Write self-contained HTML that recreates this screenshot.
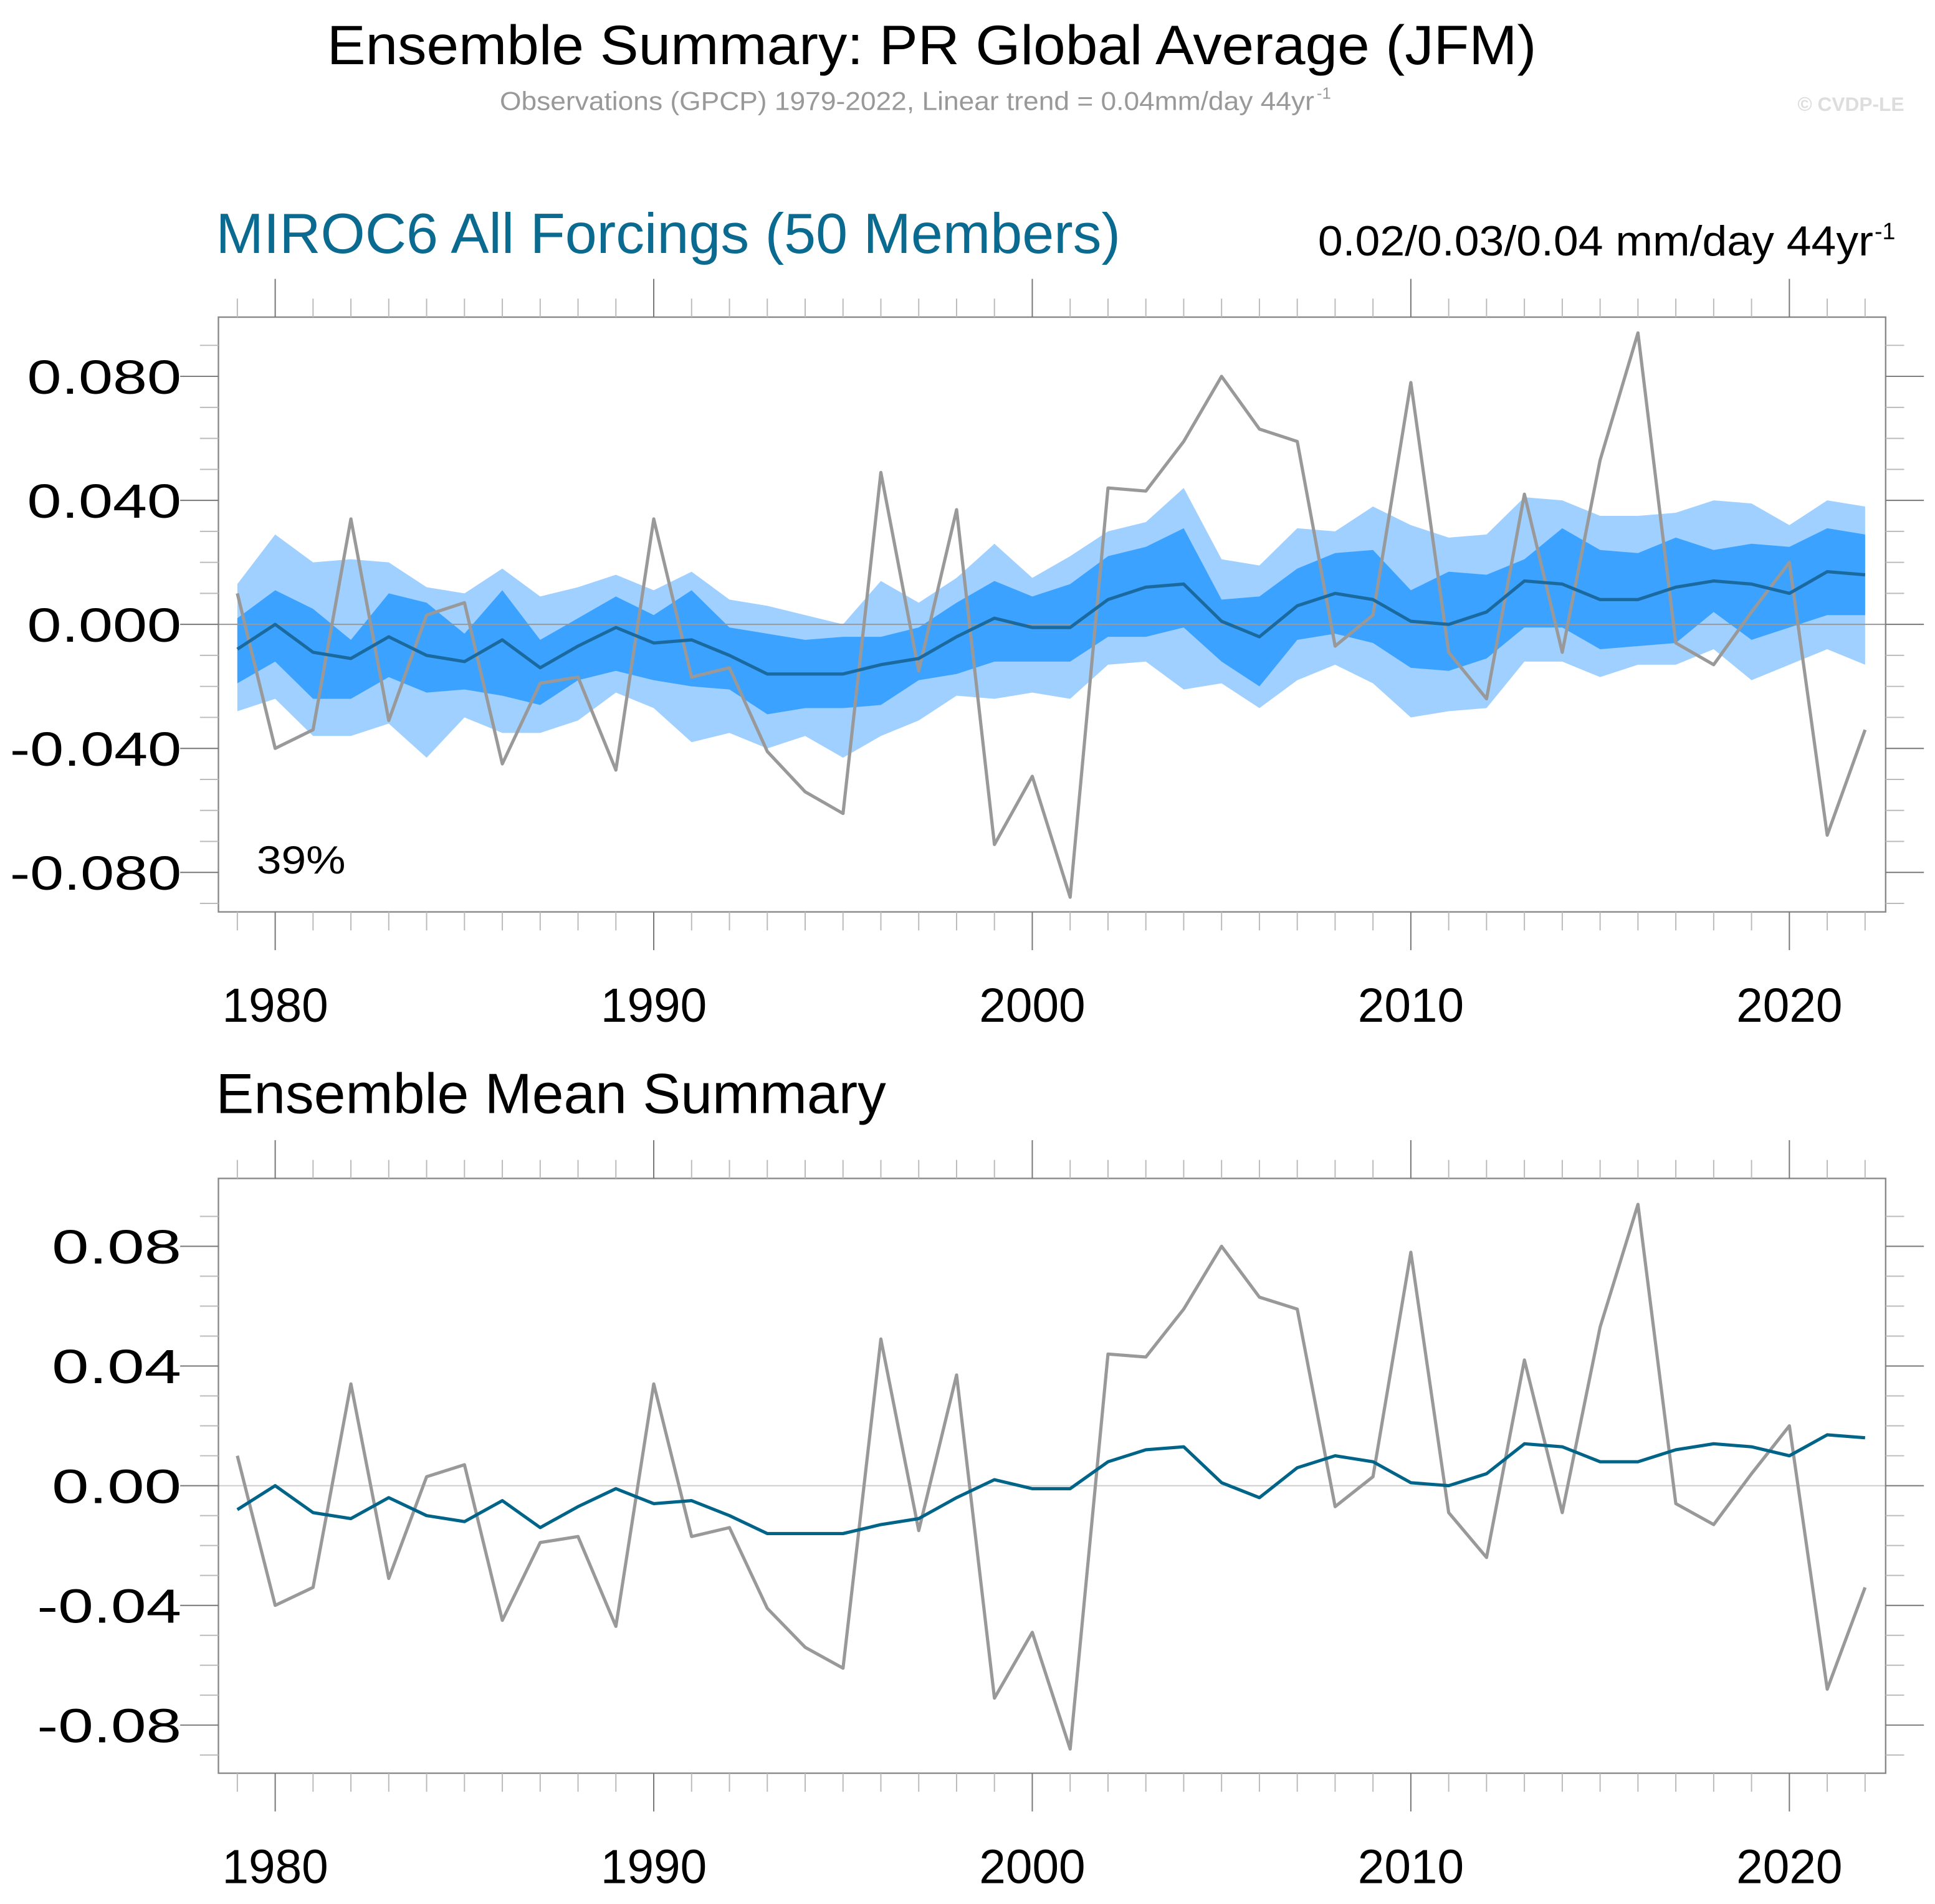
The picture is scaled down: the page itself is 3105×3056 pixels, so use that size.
<!DOCTYPE html>
<html><head><meta charset="utf-8"><style>
html,body{margin:0;padding:0;background:#fff;}
svg{display:block;font-family:"Liberation Sans",sans-serif;}
</style></head><body>
<svg id="chart" width="3105" height="3056" viewBox="0 0 1568 1543" preserveAspectRatio="none" xmlns="http://www.w3.org/2000/svg">
<rect width="1568" height="1543" fill="#fff"/>
<text x="265" y="52" font-size="45" textLength="980" lengthAdjust="spacingAndGlyphs">Ensemble Summary: PR Global Average (JFM)</text>
<text x="405" y="89" font-size="21" fill="#999" textLength="660" lengthAdjust="spacingAndGlyphs">Observations (GPCP) 1979-2022, Linear trend = 0.04mm/day 44yr</text>
<text x="1067" y="80" font-size="13" fill="#999">-1</text>
<text x="1543" y="90" font-size="16" font-weight="bold" fill="#ddd" text-anchor="end">© CVDP-LE</text>
<text x="175" y="205" font-size="46" fill="#0a6a8f" textLength="733" lengthAdjust="spacingAndGlyphs">MIROC6 All Forcings (50 Members)</text>
<text x="1068" y="207" font-size="34" textLength="450" lengthAdjust="spacingAndGlyphs">0.02/0.03/0.04 mm/day 44yr</text>
<text x="1519" y="194" font-size="19">-1</text>
<text x="175" y="902" font-size="46" textLength="543" lengthAdjust="spacingAndGlyphs">Ensemble Mean Summary</text>
<g id="p1"></g>
<g id="p2"></g>
</svg>
<script>
const years = [1979,1980,1981,1982,1983,1984,1985,1986,1987,1988,1989,1990,1991,1992,1993,1994,1995,1996,1997,1998,1999,2000,2001,2002,2003,2004,2005,2006,2007,2008,2009,2010,2011,2012,2013,2014,2015,2016,2017,2018,2019,2020,2021,2022];
const obs = [0.010,-0.040,-0.034,0.034,-0.031,0.003,0.007,-0.045,-0.019,-0.017,-0.047,0.034,-0.017,-0.014,-0.041,-0.054,-0.061,0.049,-0.015,0.037,-0.071,-0.049,-0.088,0.044,0.043,0.059,0.080,0.063,0.059,-0.007,0.003,0.078,-0.009,-0.024,0.042,-0.009,0.053,0.094,-0.006,-0.013,0.004,0.020,-0.068,-0.034];
const ensMean = [-0.008,0.000,-0.009,-0.011,-0.004,-0.010,-0.012,-0.005,-0.014,-0.007,-0.001,-0.006,-0.005,-0.010,-0.016,-0.016,-0.016,-0.013,-0.011,-0.004,0.002,-0.001,-0.001,0.008,0.012,0.013,0.001,-0.004,0.006,0.010,0.008,0.001,0.000,0.004,0.014,0.013,0.008,0.008,0.012,0.014,0.013,0.010,0.017,0.016];
const darkUpper = [0.002,0.011,0.005,-0.005,0.010,0.007,-0.003,0.011,-0.005,0.002,0.009,0.003,0.011,-0.001,-0.003,-0.005,-0.004,-0.004,-0.001,0.007,0.014,0.009,0.013,0.022,0.025,0.031,0.008,0.009,0.018,0.023,0.024,0.011,0.017,0.016,0.021,0.031,0.024,0.023,0.028,0.024,0.026,0.025,0.031,0.029];
const darkLower = [-0.019,-0.012,-0.024,-0.024,-0.017,-0.022,-0.021,-0.023,-0.026,-0.018,-0.015,-0.018,-0.020,-0.021,-0.029,-0.027,-0.027,-0.026,-0.018,-0.016,-0.012,-0.012,-0.012,-0.004,-0.004,-0.001,-0.012,-0.020,-0.005,-0.003,-0.006,-0.014,-0.015,-0.011,-0.001,-0.001,-0.008,-0.007,-0.006,0.004,-0.005,-0.001,0.003,0.003];
const lightUpper = [0.013,0.029,0.020,0.021,0.020,0.012,0.010,0.018,0.009,0.012,0.016,0.011,0.017,0.008,0.006,0.003,0.000,0.014,0.007,0.015,0.026,0.015,0.022,0.030,0.033,0.044,0.021,0.019,0.031,0.030,0.038,0.032,0.028,0.029,0.041,0.040,0.035,0.035,0.036,0.040,0.039,0.032,0.040,0.038];
const lightLower = [-0.028,-0.024,-0.036,-0.036,-0.032,-0.043,-0.030,-0.035,-0.035,-0.031,-0.022,-0.027,-0.038,-0.035,-0.040,-0.036,-0.043,-0.036,-0.031,-0.023,-0.024,-0.022,-0.024,-0.013,-0.012,-0.021,-0.019,-0.027,-0.018,-0.013,-0.019,-0.030,-0.028,-0.027,-0.012,-0.012,-0.017,-0.013,-0.013,-0.008,-0.018,-0.013,-0.008,-0.013];
const xTicks = [1980,1990,2000,2010,2020];
const yTicks1 = [-0.08,-0.04,0,0.04,0.08];
const yLabels1 = ["-0.080","-0.040","0.000","0.040","0.080"];
const yLabels2 = ["-0.08","-0.04","0.00","0.04","0.08"];
const pctLabel = "39%";

const NS="http://www.w3.org/2000/svg";
function mk(parent,tag,attrs){const e=document.createElementNS(NS,tag);for(const k in attrs)e.setAttribute(k,attrs[k]);parent.appendChild(e);return e;}
const xs = y => 223 + (y-1980)*30.675;
const L=177,R=1528;

function panel(g,top,bot,y0,per04,labels,isEns){
  const ys = v => y0 - v/0.04*per04;
  const path = arr => arr.map((v,i)=>(i?'L':'M')+xs(years[i]).toFixed(2)+','+ys(v).toFixed(2)).join('');
  const band = (up,lo) => path(up)+lo.slice().reverse().map((v,i)=>'L'+xs(years[lo.length-1-i]).toFixed(2)+','+ys(v).toFixed(2)).join('')+'Z';
  if(isEns){
    const b1=mk(g,'path',{d:band(lightUpper,lightLower),fill:'#9fd0ff'});
    
    
    const b2=mk(g,'path',{d:band(darkUpper,darkLower),fill:'#3ba2ff'});
    
    
  }
  const z=mk(g,'line',{x1:L,x2:R,y1:ys(0),y2:ys(0),stroke:isEns?'#999':'#ccc','stroke-width':1});
  
  
  const o=mk(g,'path',{d:path(obs),fill:'none',stroke:'#999','stroke-width':2.6,'stroke-linejoin':'round'});
  
  
  const m=mk(g,'path',{d:path(ensMean),fill:'none',stroke:isEns?'#1a6aa0':'#006489','stroke-width':2.6,'stroke-linejoin':'round'});
  
  
  const f=mk(g,'rect',{x:L,y:top,width:R-L,height:bot-top,fill:'none',stroke:'#888','stroke-width':1.2});
  
  
  for(let k=-9;k<=9;k++){
    const v=k*0.01, yy=ys(v);
    if(yy<top-0.5||yy>bot+0.5) continue;
    const major = k%4===0, len = major?31:15;
    mk(g,'line',{x1:L-len,x2:L,y1:yy,y2:yy,stroke:major?'#777':'#bbb','stroke-width':1});
    mk(g,'line',{x1:R,x2:R+len,y1:yy,y2:yy,stroke:major?'#777':'#bbb','stroke-width':1});
  }
  yTicks1.forEach((v,i)=>{
    const lab=labels[i];
    const w = isEns ? (lab[0]==='-'?139:125) : (lab[0]==='-'?117:105);
    const t=mk(g,'text',{x:147-w,y:ys(v)+14,'font-size':39,textLength:w,lengthAdjust:'spacingAndGlyphs'});
    t.textContent=lab;
    
    
  });
  years.forEach(y=>{
    const major = y%10===0, len = major?31:15, xx=xs(y);
    mk(g,'line',{x1:xx,x2:xx,y1:top-len,y2:top,stroke:major?'#777':'#bbb','stroke-width':1});
    mk(g,'line',{x1:xx,x2:xx,y1:bot,y2:bot+len,stroke:major?'#777':'#bbb','stroke-width':1});
  });
  xTicks.forEach(y=>{
    const t=mk(g,'text',{x:xs(y)-43,y:bot+89,'font-size':39,textLength:86,lengthAdjust:'spacingAndGlyphs'});
    t.textContent=String(y);
    
    
  });
  if(isEns){
    const t=mk(g,'text',{x:208,y:708,'font-size':32,textLength:72,lengthAdjust:'spacingAndGlyphs'});
    t.textContent=pctLabel;
    
    
  }
}
panel(document.getElementById('p1'),257,739,506,100.5,yLabels1,true);
panel(document.getElementById('p2'),955,1437,1204,97,yLabels2,false);
</script>
</body></html>
